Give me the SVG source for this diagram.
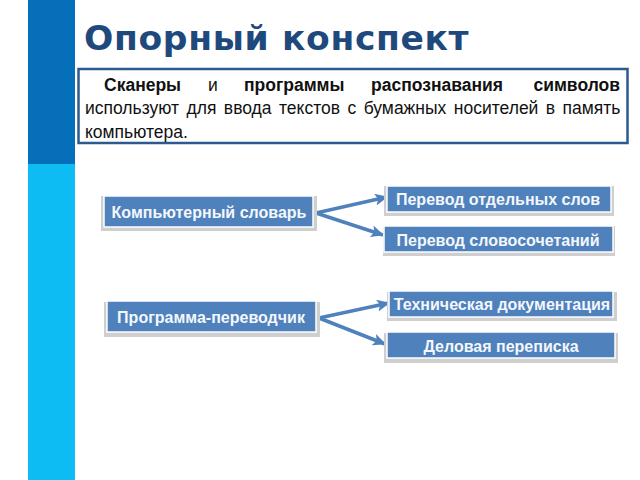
<svg xmlns="http://www.w3.org/2000/svg" width="640" height="480" viewBox="0 0 640 480">
<style>
.t{font-family:"Liberation Sans",Arial,sans-serif;font-size:17.500px;fill:#111}
.b{font-weight:bold}
.n{fill:#4f81bd;stroke:#fff;stroke-width:1.5}
.s{fill:#cfcfcf}
.l{font-family:"Liberation Sans",Arial,sans-serif;font-size:16px;font-weight:bold;fill:#f4f7fb;text-anchor:middle}
.c{fill:none;stroke:#4f81bd;stroke-width:3.5;marker-end:url(#a)}
</style>
<defs>
<marker id="a" markerUnits="userSpaceOnUse" markerWidth="16" markerHeight="14" refX="12" refY="6" orient="auto"><path d="M0 0L13 6L0 12L3 6Z" fill="#4f81bd"/></marker>
</defs>
<rect width="640" height="480" fill="#fff"/>
<rect x="28" y="0" width="47" height="165" fill="#0570b9"/>
<rect x="28" y="164" width="47" height="316" fill="#0dbcf2"/>
<text x="84" y="50" font-family="'DejaVu Sans',sans-serif" font-size="34.500" font-weight="bold" letter-spacing="0.65" fill="#1f497d">Опорный конспект</text>
<g id="summary">
<rect x="78.500" y="69" width="549" height="74" fill="#fff" stroke="#2c5a8c" stroke-width="2.500"/>
<text class="t b" x="104" y="91">Сканеры</text>
<text class="t" x="208" y="91">и</text>
<text class="t b" x="244" y="91">программы</text>
<text class="t b" x="371" y="91">распознавания</text>
<text class="t b" x="620" y="91" text-anchor="end">символов</text>
<text class="t" x="85" y="114" style="word-spacing:2.600px">используют для ввода текстов с бумажных носителей в память</text>
<text class="t" x="85" y="138">компьютера.</text>
</g>
<g id="connectors">
<path class="c" d="M316 213L387 197"/>
<path class="c" d="M316 213L383 235"/>
<path class="c" d="M319 318L389 303"/>
<path class="c" d="M319 318L385 344"/>
</g>
<g id="n1"><rect class="s" x="101" y="196" width="216" height="35"/><rect class="n" x="104" y="196" width="209" height="31"/><text class="l" x="209" y="218">Компьютерный словарь</text></g>
<g id="n2"><rect class="s" x="104" y="302" width="216" height="35"/><rect class="n" x="107" y="301" width="209" height="31"/><text class="l" x="211" y="323">Программа-переводчик</text></g>
<g id="n3"><rect class="s" x="384" y="186" width="230" height="30"/><rect class="n" x="387" y="186" width="224" height="26"/><text class="l" x="498" y="205">Перевод отдельных слов</text></g>
<g id="n4"><rect class="s" x="383" y="226" width="232" height="30"/><rect class="n" x="384" y="226" width="229" height="26"/><text class="l" x="498" y="246">Перевод словосочетаний</text></g>
<g id="n5"><rect class="s" x="387" y="292" width="230" height="29"/><rect class="n" x="389" y="291" width="224" height="26"/><text class="l" x="502" y="310">Техническая документация</text></g>
<g id="n6"><rect class="s" x="384" y="333" width="234" height="30"/><rect class="n" x="387" y="332" width="228" height="26"/><text class="l" x="501" y="352">Деловая переписка</text></g>
</svg>
